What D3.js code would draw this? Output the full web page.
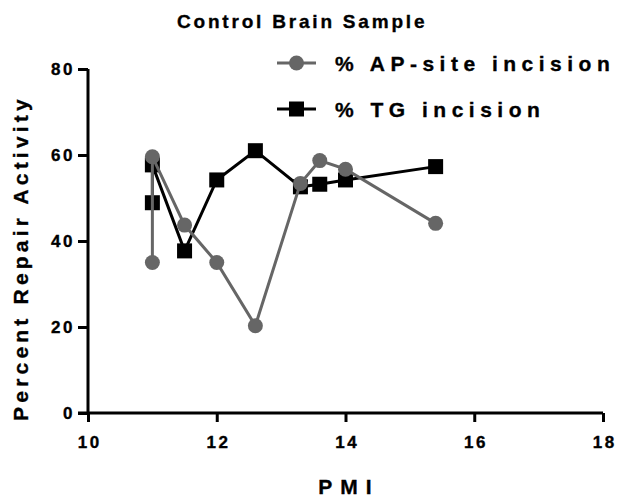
<!DOCTYPE html>
<html>
<head>
<meta charset="utf-8">
<script src="https://cdn.jsdelivr.net/npm/d3@7"></script>
<style>
  body { margin: 0; background: #fff; }
  text { font-family: "Liberation Sans", Arial, sans-serif; font-weight: bold; fill: #000; stroke: #000; stroke-width: 0.35px; }
</style>
</head>
<body>
<svg id="chart" width="617" height="500"></svg>
<script>
// Data
const apPMI    = [11, 11, 11.5, 12, 12.6, 13.3, 13.6, 14, 15.4];
const apValues = [35, 59.6, 43.7, 35, 20.3, 53.4, 58.7, 56.7, 44.1];
const tgPMI    = [11, 11, 11.5, 12, 12.6, 13.3, 13.6, 14, 15.4];
const tgValues = [48.9, 57.7, 37.7, 54.2, 61.0, 52.6, 53.2, 54.2, 57.3];
const xTicks = [10, 12, 14, 16, 18];
const yTicks = [0, 20, 40, 60, 80];
const seriesNames = ["% AP-site incision", "% TG incision"];
const titleText = "Control Brain Sample";
const xTitle = "PMI";
const yTitle = "Percent Repair Activity";

const svg = d3.select("#chart");
const x = d3.scaleLinear().domain([10, 18]).range([88, 603]);
const y = d3.scaleLinear().domain([0, 80]).range([413, 69]);

const gray = "#666666";
const fontFam = "'Liberation Sans', Arial, sans-serif";

// Axes
const xAxis = d3.axisBottom(x).tickValues(xTicks).tickSize(9).tickPadding(14).tickFormat(d3.format("d"));
const yAxis = d3.axisLeft(y).tickValues(yTicks).tickSize(10).tickPadding(3).tickFormat(d3.format("d"));

const gx = svg.append("g").attr("transform", `translate(0,${y(0)})`).call(xAxis);
const gy = svg.append("g").attr("transform", `translate(${x(10)},0)`).call(yAxis);
[gx, gy].forEach(g => {
  g.select(".domain").attr("stroke", "#000").attr("stroke-width", 3);
  g.selectAll(".tick line").attr("stroke", "#000").attr("stroke-width", 3);
  g.selectAll(".tick text").style("font-size", "17px").style("font-family", fontFam)
    .style("font-weight", "bold").style("letter-spacing", "2.5px").attr("fill", "#000")
    .attr("stroke", "#000").attr("stroke-width", 0.35);
});
gx.selectAll(".tick text").attr("dx", "1.25px");
// x axis extends left to meet y tick
gx.select(".domain").attr("d", `M${x(10) - 10},0H${x(18)}`);
gy.select(".domain").attr("d", `M0,${y(80)}V${y(0)}`);

// Lines
const apData = apPMI.map((p, i) => [p, apValues[i]]);
const tgData = tgPMI.map((p, i) => [p, tgValues[i]]);
const line = d3.line().x(d => x(d[0])).y(d => y(d[1]));

svg.append("path").datum(tgData).attr("d", line).attr("fill", "none").attr("stroke", "#000").attr("stroke-width", 3);
svg.selectAll(".tg").data(tgData).join("rect").attr("class", "tg")
  .attr("x", d => x(d[0]) - 7.5).attr("y", d => y(d[1]) - 7.5).attr("width", 15).attr("height", 15).attr("fill", "#000");

svg.append("path").datum(apData).attr("d", line).attr("fill", "none").attr("stroke", gray).attr("stroke-width", 3);
svg.selectAll(".ap").data(apData).join("circle").attr("class", "ap")
  .attr("cx", d => x(d[0])).attr("cy", d => y(d[1])).attr("r", 7.5).attr("fill", gray);

// Title
svg.append("text").attr("x", 177).attr("y", 28)
  .style("font-size", "19px").style("letter-spacing", "2.8px").text(titleText);

// Axis titles
svg.append("text").attr("x", 349).attr("y", 494).attr("text-anchor", "middle")
  .style("font-size", "21px").style("letter-spacing", "8px").text(xTitle);
svg.append("text").attr("transform", "translate(28,258) rotate(-90)").attr("text-anchor", "middle")
  .style("font-size", "21px").style("letter-spacing", "4.2px").text(yTitle);

// Legend
const legend = svg.append("g");
const legY = [63, 109];
seriesNames.forEach((name, i) => {
  const g = legend.append("g").attr("transform", `translate(0,${legY[i]})`);
  g.append("line").attr("x1", 277).attr("x2", 316).attr("y1", 0).attr("y2", 0)
    .attr("stroke", i === 0 ? gray : "#000").attr("stroke-width", 3);
  if (i === 0) g.append("circle").attr("cx", 296.5).attr("cy", 0).attr("r", 7.5).attr("fill", gray);
  else g.append("rect").attr("x", 289).attr("y", -7.5).attr("width", 15).attr("height", 15).attr("fill", "#000");
  g.append("text").attr("x", 335).attr("y", 7.5).style("font-size", "21px").style("letter-spacing", "5.5px").text(name);
});
</script>
</body>
</html>
